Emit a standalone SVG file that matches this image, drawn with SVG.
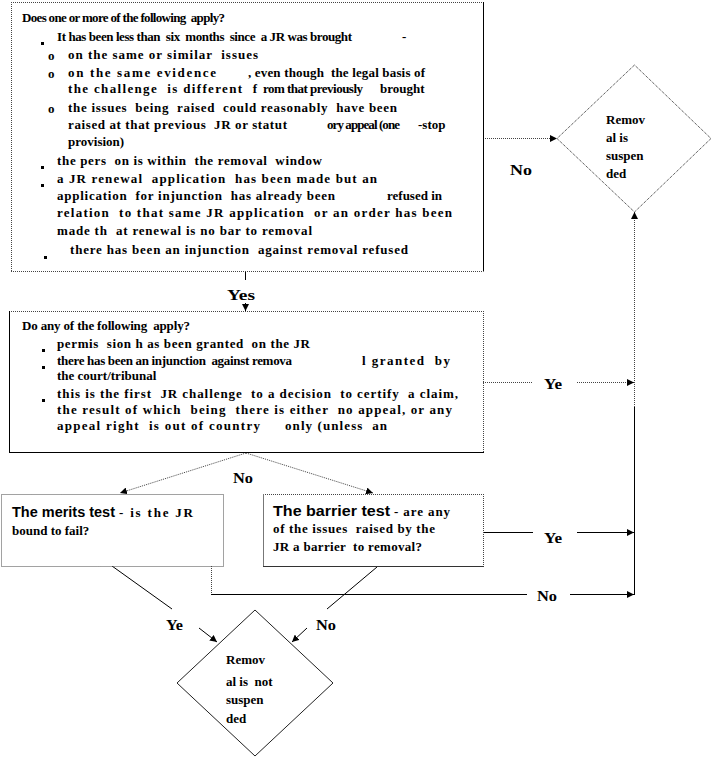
<svg xmlns="http://www.w3.org/2000/svg" width="714" height="759" viewBox="0 0 714 759">
<style>
.t{font-family:"Liberation Serif","Times New Roman",serif;font-weight:bold;font-size:13px;fill:#000;white-space:pre}
.l{font-family:"Liberation Serif","Times New Roman",serif;font-weight:bold;font-size:14px;fill:#000}
.s{font-family:"Liberation Sans",Arial,sans-serif;font-weight:bold;font-size:14px;fill:#000}
.dot{stroke:#444;stroke-width:1;stroke-dasharray:1 1;fill:none}
.sol{stroke:#000;stroke-width:1;fill:none}
.gry{stroke:#777;stroke-width:1;fill:none}
.bg{fill:#fff;stroke:none}
.dia{fill:#fff;stroke:#222;stroke-width:1}
.b{fill:#000}
</style>
<defs>
<marker id="ah" markerUnits="userSpaceOnUse" markerWidth="8" markerHeight="7" refX="7" refY="3.5" orient="auto">
<path d="M0,0 L7,3.5 L0,7 z" fill="#000"/>
</marker>
</defs>
<rect width="714" height="759" fill="#fff"/>

<g id="connectors">
<line class="sol" x1="245.5" y1="271" x2="245.5" y2="280"/>
<line class="sol" x1="245.5" y1="303" x2="245.5" y2="311" marker-end="url(#ah)"/>
<line class="dot" x1="483" y1="138.5" x2="557" y2="138.5" marker-end="url(#ah)"/>
<line class="dot" x1="483" y1="382.5" x2="533" y2="382.5"/>
<line class="dot" x1="577" y1="382.5" x2="634" y2="382.5" marker-end="url(#ah)"/>
<line class="sol" x1="483" y1="532.5" x2="533" y2="532.5"/>
<line class="sol" x1="577" y1="532.5" x2="634" y2="532.5" marker-end="url(#ah)"/>
<line class="dot" x1="211.5" y1="566" x2="211.5" y2="594.5"/>
<line class="sol" x1="211" y1="594.5" x2="527" y2="594.5"/>
<line class="sol" x1="570" y1="594.5" x2="634" y2="594.5" marker-end="url(#ah)"/>
<line class="sol" x1="634.5" y1="595" x2="634.5" y2="407"/>
<line class="dot" x1="634.5" y1="407" x2="634.5" y2="212" marker-end="url(#ah)"/>
<line class="dot" x1="246" y1="453" x2="120" y2="493" marker-end="url(#ah)"/>
<line class="dot" x1="246" y1="453" x2="373" y2="493" marker-end="url(#ah)"/>
<line class="sol" x1="112" y1="566" x2="172" y2="609"/>
<line class="sol" x1="199" y1="628" x2="217" y2="642" marker-end="url(#ah)"/>
<line class="sol" x1="377" y1="567" x2="327" y2="609"/>
<line class="sol" x1="307" y1="628" x2="292" y2="642" marker-end="url(#ah)"/>
<text class="l" x="227" y="300" textLength="28" lengthAdjust="spacingAndGlyphs">Yes</text>
<text class="l" x="510" y="175" textLength="22" lengthAdjust="spacingAndGlyphs">No</text>
<text class="l" x="233" y="483" textLength="20" lengthAdjust="spacingAndGlyphs">No</text>
<text class="l" x="544" y="389" textLength="18" lengthAdjust="spacingAndGlyphs">Ye</text>
<text class="l" x="544" y="543" textLength="18" lengthAdjust="spacingAndGlyphs">Ye</text>
<text class="l" x="537" y="601" textLength="20" lengthAdjust="spacingAndGlyphs">No</text>
<text class="l" x="166" y="630" textLength="17" lengthAdjust="spacingAndGlyphs">Ye</text>
<text class="l" x="316" y="630" textLength="20" lengthAdjust="spacingAndGlyphs">No</text>
</g>

<g id="q1">
<rect class="bg" x="11" y="2" width="472" height="269"/>
<line class="dot" x1="11" y1="2.5" x2="483" y2="2.5"/>
<line class="dot" x1="11.5" y1="2" x2="11.5" y2="271"/>
<line class="sol" x1="483.5" y1="2" x2="483.5" y2="271.5"/>
<line class="dot" x1="11" y1="271.5" x2="483" y2="271.5"/>
<text class="t" x="22" y="22" textLength="203">Does one or more of the following  apply?</text>
<rect class="b" x="41" y="42" width="3" height="3"/>
<text class="t" x="57" y="41" textLength="295">It has been less than  six  months  since  a JR was brought</text>
<text class="t" x="402" y="41">-</text>
<text class="t" x="48" y="60">o</text>
<text class="t" x="68" y="59" textLength="190">on the same or similar  issues</text>
<text class="t" x="48" y="78">o</text>
<text class="t" x="68" y="77" textLength="148">on the same evidence</text>
<text class="t" x="248" y="77" textLength="177">, even though  the legal basis of</text>
<text class="t" x="68" y="93" textLength="189">the challenge  is different  f</text>
<text class="t" x="263" y="93" textLength="100">rom that previously</text>
<text class="t" x="380" y="93">brought</text>
<text class="t" x="48" y="113">o</text>
<text class="t" x="68" y="112" textLength="329">the issues  being  raised  could reasonably  have been</text>
<text class="t" x="68" y="129" textLength="219">raised at that previous  JR or statut</text>
<text class="t" x="327" y="129" textLength="73">ory appeal (one</text>
<text class="t" x="418" y="129">-stop</text>
<text class="t" x="68" y="146">provision)</text>
<rect class="b" x="41" y="166" width="3" height="3"/>
<text class="t" x="57" y="165" textLength="265">the pers  on is within  the removal  window</text>
<rect class="b" x="41" y="184" width="3" height="3"/>
<text class="t" x="57" y="183" textLength="320">a JR renewal  application  has been made but an</text>
<text class="t" x="57" y="200" textLength="278">application  for injunction  has already been</text>
<text class="t" x="387" y="200">refused in</text>
<text class="t" x="57" y="217" textLength="395">relation  to that same JR application  or an order has been</text>
<text class="t" x="57" y="235" textLength="255">made th  at renewal is no bar to removal</text>
<rect class="b" x="44" y="256" width="3" height="3"/>
<text class="t" x="70" y="254" textLength="338">there has been an injunction  against removal refused</text>
</g>

<g id="q2">
<rect class="bg" x="9" y="311" width="474" height="141"/>
<line class="dot" x1="9" y1="311.5" x2="483" y2="311.5"/>
<line class="sol" x1="9.5" y1="311" x2="9.5" y2="453"/>
<line class="dot" x1="483.5" y1="311" x2="483.5" y2="452"/>
<line class="sol" x1="9" y1="452.5" x2="484" y2="452.5"/>
<text class="t" x="22" y="330" textLength="168">Do any of the following  apply?</text>
<rect class="b" x="42" y="349" width="3" height="3"/>
<text class="t" x="57" y="348" textLength="253">permis  sion h as been granted  on the JR</text>
<rect class="b" x="42" y="366" width="3" height="3"/>
<text class="t" x="57" y="365" textLength="235">there has been an injunction  against remova</text>
<text class="t" x="362" y="365" textLength="88">l granted  by</text>
<text class="t" x="57" y="380">the court/tribunal</text>
<rect class="b" x="42" y="399" width="3" height="3"/>
<text class="t" x="57" y="398" textLength="401">this is the first  JR challenge  to a decision  to certify  a claim,</text>
<text class="t" x="57" y="414" textLength="395">the result of which  being  there is either  no appeal, or any</text>
<text class="t" x="57" y="430" textLength="203">appeal right  is out of country</text>
<text class="t" x="285" y="430" textLength="102">only (unless  an</text>
</g>

<g id="merits">
<rect class="bg" x="1" y="494" width="222" height="72"/>
<rect class="dot" x="1.5" y="494.5" width="222" height="72"/>
<text class="s" x="12" y="517" textLength="103" lengthAdjust="spacingAndGlyphs">The merits test</text>
<text class="t" x="119" y="517" textLength="74">- is the JR</text>
<text class="t" x="12" y="535">bound to fail?</text>
</g>

<g id="barrier">
<rect class="bg" x="263" y="494" width="220" height="72"/>
<line class="dot" x1="263" y1="494.5" x2="483" y2="494.5"/>
<line class="gry" x1="263.5" y1="494" x2="263.5" y2="566"/>
<line class="sol" x1="263" y1="566.5" x2="484" y2="566.5" style="stroke:#333"/>
<line class="dot" x1="483.5" y1="494" x2="483.5" y2="566"/>
<text class="s" x="273" y="516" textLength="117" lengthAdjust="spacingAndGlyphs">The barrier test</text>
<text class="t" x="394" y="516" textLength="56">- are any</text>
<text class="t" x="273" y="533" textLength="162">of the issues  raised by the</text>
<text class="t" x="273" y="551" textLength="149">JR a barrier  to removal?</text>
</g>

<g id="suspended">
<path class="dia" d="M634.5,65 L711,138.5 L634.5,212 L557,138.5 Z" style="stroke-dasharray:1 1"/>
<text class="t" x="606" y="124">Remov</text>
<text class="t" x="606" y="142">al is</text>
<text class="t" x="606" y="160">suspen</text>
<text class="t" x="606" y="178">ded</text>
</g>

<g id="not-suspended">
<path class="dia" d="M255,610 L333,683 L255,756 L177,683 Z"/>
<text class="t" x="226" y="664">Remov</text>
<text class="t" x="226" y="686">al is  not</text>
<text class="t" x="226" y="704">suspen</text>
<text class="t" x="226" y="723">ded</text>
</g>
</svg>
